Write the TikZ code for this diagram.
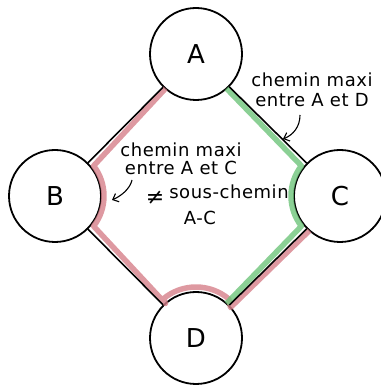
\documentclass[tikz,border=0pt]{standalone}
\usepackage{fontspec}
\setmainfont{DejaVu Sans}
\usetikzlibrary{calc,arrows.meta}
\definecolor{hlred}{RGB}{214,128,138}
\definecolor{hlgreen}{RGB}{110,196,122}
\begin{document}
\begin{tikzpicture}[x=1pt,y=1pt,
 vertex/.style={circle,draw=black,line width=1.8pt,fill=white,minimum size=92pt,inner sep=0pt,font=\fontsize{26}{30}\selectfont},
 edge/.style={line width=1.6pt,black},
 hlr/.style={line width=5.5pt,hlred,opacity=0.8,line join=round},
 hlg/.style={line width=5.5pt,hlgreen,opacity=0.8,line join=round},
 note/.style={align=center,inner sep=0pt,font=\fontsize{18}{20}\selectfont\addfontfeature{LetterSpace=3}},
 pointer/.style={line width=1.1pt,-{Straight Barb[length=5pt,width=9pt]}}]
\useasboundingbox (0,0) rectangle (380,385);
\node[vertex] (A) at (196,331) {A};
\node[vertex] (B) at (55,189) {B};
\node[vertex] (C) at (340,189) {C};
\node[vertex] (D) at (196,47) {D};
% highlighted paths
\draw[hlr] ($(A.center)+(225:46)+(2,-2)$) -- ($(B.center)+(38:49)$)
  arc[start angle=38,end angle=-38,radius=49]
  -- ($(D.center)+(135:46)+(2,2)$) -- ($(D.center)+(130:51)$)
  arc[start angle=130,end angle=50,radius=51]
  -- ($(D.center)+(45:46)+(2,-2)$) -- ($(C.center)+(225:46)+(2,-2)$);
\draw[hlg] ($(A.center)+(-45:46)+(-2,-2)$) -- ($(C.center)+(142:49)$)
  arc[start angle=142,end angle=218,radius=49]
  -- ($(D.center)+(45:46)+(-2,2)$);
% edges
\draw[edge] (A) -- (B);
\draw[edge] (A) -- (C);
\draw[edge] (B) -- (D);
\draw[edge] (C) -- (D);
% notes
\node[note] (n1) at (312,295) {chemin maxi\\entre A et D};
\node[note,font=\fontsize{18}{18}\selectfont\addfontfeature{LetterSpace=3}] (n2) at (181,226) {chemin maxi\\entre A et C};
\node[inner sep=0pt,font=\fontsize{22}{22}\selectfont] (neq) at (155,187) {≠};
\node[note] (sc) at (229,193) {sous-chemin};
\node[note] (ac) at (200,167) {A-C};
\coordinate (p1s) at (300,270);
\coordinate (p1e) at (283,246);
\draw[pointer] (p1s) .. controls (300,258) and (293,250) .. (p1e);
\coordinate (p2s) at (132,205);
\coordinate (p2e) at (112,185);
\draw[pointer] (p2s) .. controls (130,196) and (121,189) .. (p2e);
\end{tikzpicture}
\end{document}
